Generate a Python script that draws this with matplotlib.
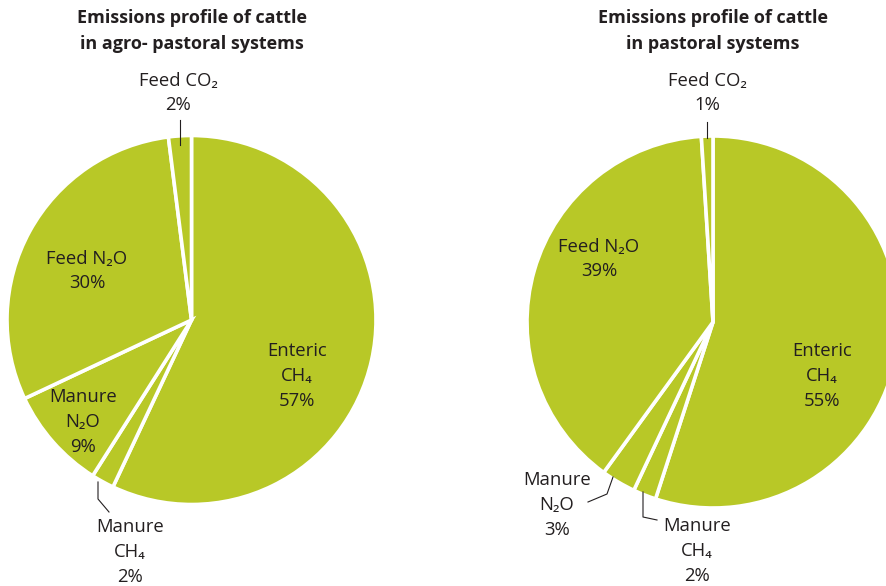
import matplotlib
matplotlib.use('Agg')
import matplotlib.pyplot as plt

plt.rcParams['font.family'] = ['Open Sans', 'DejaVu Sans']

# shares, clockwise from 12 o'clock
labels = ['Enteric CH4', 'Manure CH4', 'Manure N2O', 'Feed N2O', 'Feed CO2']
agro_vals = [57, 2, 9, 30, 2]
past_vals = [55, 2, 3, 39, 1]
titles = ['Emissions profile of cattle\nin agro- pastoral systems',
          'Emissions profile of cattle\nin pastoral systems']

label_txt = ['Enteric\nCH\u2084\n{}%', 'Manure\nCH\u2084\n{}%', 'Manure\nN\u2082O\n{}%',
             'Feed N\u2082O\n{}%', 'Feed CO\u2082\n{}%']

green = '#b8c827'
txtc = '#231f20'
H = 586

fig = plt.figure(figsize=(8.86, 5.86), dpi=100)
ax = fig.add_axes([0, 0, 1, 1])

def py(y):
    return H - y

# left pie
ax.pie(agro_vals, center=(191.5, py(320)), radius=184.5, startangle=90,
       counterclock=False, colors=[green] * 5, frame=True,
       wedgeprops=dict(edgecolor='white', linewidth=2.6))
# right pie
ax.pie(past_vals, center=(713, py(322)), radius=186, startangle=90,
       counterclock=False, colors=[green] * 5, frame=True,
       wedgeprops=dict(edgecolor='white', linewidth=2.6))
ax.set_xlim(0, 886)
ax.set_ylim(0, H)
ax.set_aspect('equal')
ax.axis('off')

ax.text(192, py(31), titles[0], ha='center', va='center', fontsize=13,
        fontweight='bold', color=txtc, linespacing=1.55)
ax.text(713, py(31), titles[1], ha='center', va='center', fontsize=13,
        fontweight='bold', color=txtc, linespacing=1.55)

fs = 13.3
ls = 1.48
left_pos = [(297, 376), (130, 552), (83, 422), (87, 271), (178, 93)]
right_pos = [(822, 376), (697, 551), (557, 505), (599, 259), (707, 93)]
for i in range(5):
    ax.text(left_pos[i][0], py(left_pos[i][1]), label_txt[i].format(agro_vals[i]),
            ha='center', va='center', fontsize=fs, color=txtc, linespacing=ls)
    ax.text(right_pos[i][0], py(right_pos[i][1]), label_txt[i].format(past_vals[i]),
            ha='center', va='center', fontsize=fs, color=txtc, linespacing=ls)

# leader lines
lines = [
    ([180, 180], [120, 145]),
    ([98, 98, 109], [482, 499, 512]),
    ([707, 707], [122, 138]),
    ([613, 607, 588], [477, 494, 502]),
    ([643, 643, 657], [492, 517, 520]),
]
for xs, ys in lines:
    ax.plot(xs, [py(y) for y in ys], color=txtc, lw=0.8)

fig.savefig('out.png', dpi=100)
